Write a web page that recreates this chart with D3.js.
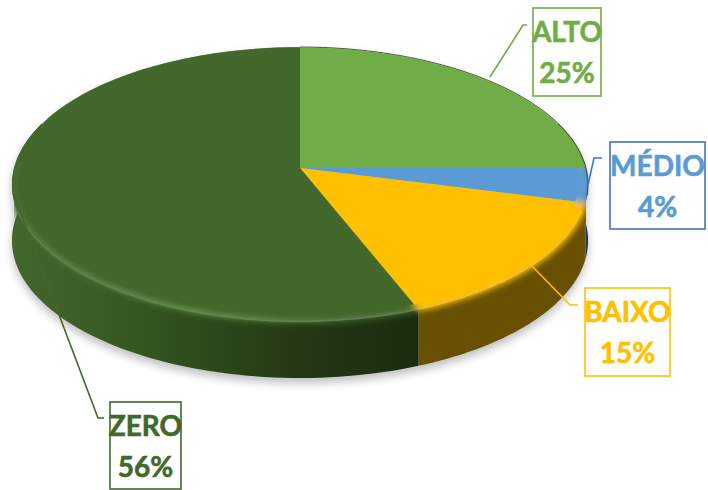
<!DOCTYPE html>
<html><head><meta charset="utf-8">
<script src="https://cdn.jsdelivr.net/npm/d3@7"></script>
<style>html,body{margin:0;padding:0;background:#fff}svg{display:block}</style>
</head><body><div id="c"></div>
<script>
const categories = ["ALTO","MÉDIO","BAIXO","ZERO"];
const values = [25,4,15,56];
const topColors = ["#70ad47","#5b9bd5","#ffc000","#43682b"];
const lineColors = ["#70ad47","#4472c4","#ffc000","#43682b"];
const textColors = ["#70ad47","#5b9bd5","#ffc000","#43682b"];
const sideColors = ["#3f6a28","#1f3a5c","#685000","url(#zeroSide)"];

const W=708,H=490, depth=56;
const svg=d3.select("#c").append("svg").attr("width",W).attr("height",H);
const defs=svg.append("defs");
const blur=(id,s)=>defs.append("filter").attr("id",id).attr("x","-20%").attr("y","-20%").attr("width","140%").attr("height","140%")
  .append("feGaussianBlur").attr("stdDeviation",s);
blur("b5",5); blur("b3",3.2); blur("b2",2.2); blur("b06",.6);
const g0=defs.append("linearGradient").attr("id","zeroSide").attr("gradientUnits","userSpaceOnUse")
  .attr("x1",12).attr("x2",416).attr("y1",0).attr("y2",0);
[[0,"#42672b"],[.2,"#3a5d25"],[.4,"#31501e"],[.55,"#2a4519"],[.72,"#233815"],[1,"#1b2c10"]].forEach(s=>g0.append("stop").attr("offset",s[0]).attr("stop-color",s[1]));
const g1=defs.append("linearGradient").attr("id","ridge").attr("gradientUnits","userSpaceOnUse")
  .attr("x1",12).attr("x2",340).attr("y1",0).attr("y2",0);
[[0,"#65924f",.15],[.12,"#65924f",.6],[.6,"#65924f",.8],[.85,"#65924f",.3],[1,"#65924f",0]].forEach(s=>g1.append("stop").attr("offset",s[0]).attr("stop-color",s[1]).attr("stop-opacity",s[2]));

// perspective projection of the pie disc
const px=d3.scaleLinear().domain([-1,1]).range([14,586]);
const py=d3.scaleLinear().domain([-1,1]).range([32.5,303.5]);
const k=.12;
const proj=(a,r=1)=>{const u=r*Math.sin(a),v=-r*Math.cos(a),d=1-k*v;return [px(u/d),py(v/d)];};
const pie=d3.pie().sort(null).value(d=>d);
const arcs=pie(values);
const line=d3.line();
const samples=(a0,a1,r=1)=>d3.range(0,1.0001,1/80).map(t=>proj(a0+(a1-a0)*t,r));
const wedge=(d,r=1)=>line([proj(0,0),...samples(d.startAngle,d.endAngle,r)])+"Z";
const side=(d,a0,a1)=>{const top=samples(a0,a1);const bot=top.map(p=>[p[0],p[1]+depth]).reverse();return line([...top,...bot])+"Z";};
const full=samples(0,2*Math.PI);
const band=line([proj(Math.PI/2),proj(3*Math.PI/2),[proj(3*Math.PI/2)[0],proj(3*Math.PI/2)[1]+depth],[proj(Math.PI/2)[0],proj(Math.PI/2)[1]+depth]])+"Z";
const silhouette=sel=>{
  sel.append("path").attr("d",line(full)+"Z");
  sel.append("path").attr("d",line(full.map(p=>[p[0],p[1]+depth]))+"Z");
  sel.append("path").attr("d",band);
};

// shadow
const shadow=svg.append("g").attr("filter","url(#b5)").attr("transform","translate(0,5)").attr("opacity",.26);
silhouette(shadow);

// sides (only the visible front half of each slice)
const visStart=Math.PI/2-.35, visEnd=3*Math.PI/2+.35;
svg.append("g").selectAll("path").data(arcs).join("path")
  .attr("d",d=>{const a=Math.max(d.startAngle,visStart),b=Math.min(d.endAngle,visEnd);return a<b?side(d,a,b):null;})
  .attr("fill",(d,i)=>sideColors[i]);

// soft bevel: blurred top face, then crisp inset face
silhouette(defs.append("clipPath").attr("id","body"));
const bev=svg.append("g").attr("clip-path","url(#body)");
bev.append("g").attr("filter","url(#b3)").selectAll("path").data(arcs).join("path")
  .attr("d",d=>wedge(d,1.008)).attr("fill",(d,i)=>topColors[i]);
// crisp faces
svg.append("g").selectAll("path").data(arcs).join("path")
  .attr("d",d=>wedge(d,.965)).attr("fill",(d,i)=>topColors[i]);
// highlight ridge on the ZERO rim
svg.append("path").attr("d",line(samples(arcs[3].startAngle+.02,3*Math.PI/2+.05,.99)))
  .attr("fill","none").attr("stroke","url(#ridge)").attr("stroke-width",3.5).attr("filter","url(#b2)");
// back rim dark edge
svg.append("path").attr("d",line(samples(0,Math.PI/2+.2))).attr("fill","none")
  .attr("stroke","#2c3a22").attr("stroke-width",1).attr("filter","url(#b06)").attr("opacity",.8);
// back rim faces without inset, easing out of the bevel on the left
svg.append("path").attr("d",wedge(arcs[0],.995)).attr("fill",topColors[0]);
const a0=3*Math.PI/2-.05, a1=2*Math.PI;
const backLeft=d3.range(0,1.0001,1/80).map(t=>proj(a0+(a1-a0)*t,.965+.033*Math.min(1,t*3.5)));
svg.append("path").attr("d",line([proj(0,0),...backLeft])+"Z").attr("fill",topColors[3]);

// labels
const labelLayout=[
 {box:[533,8,68,88],lead:[[490,77],[523,25],[527,25]]},
 {box:[610,142,95,87],lead:[[588,185],[594,158],[602,158]]},
 {box:[585,288,85,88],lead:[[530,264],[570,305],[578,305]]},
 {box:[110,402,71,87],lead:[[13,193],[98,418],[104,418]]}
];
const lab=svg.append("g").selectAll("g").data(arcs).join("g");
lab.append("path").attr("d",(d,i)=>line(labelLayout[i].lead)).attr("fill","none")
  .attr("stroke",(d,i)=>lineColors[i]).attr("stroke-width",1.6);
lab.append("rect").attr("x",(d,i)=>labelLayout[i].box[0]).attr("y",(d,i)=>labelLayout[i].box[1])
  .attr("width",(d,i)=>labelLayout[i].box[2]).attr("height",(d,i)=>labelLayout[i].box[3])
  .attr("fill","#fff").attr("stroke",(d,i)=>lineColors[i]).attr("stroke-width",1.6);
const txt=lab.append("text").attr("text-anchor","middle").attr("font-family","Lato, 'Open Sans', sans-serif")
  .attr("font-weight",700).attr("font-size",28).attr("fill",(d,i)=>textColors[i])
  .attr("stroke",(d,i)=>textColors[i]).attr("stroke-width",.6);
const cx=i=>labelLayout[i].box[0]+labelLayout[i].box[2]/2, ty=i=>labelLayout[i].box[1];
txt.append("tspan").attr("x",(d,i)=>cx(i)).attr("y",(d,i)=>ty(i)+34).text((d,i)=>categories[i]);
txt.append("tspan").attr("x",(d,i)=>cx(i)).attr("y",(d,i)=>ty(i)+74.5).text(d=>d.value+"%");
</script></body></html>
